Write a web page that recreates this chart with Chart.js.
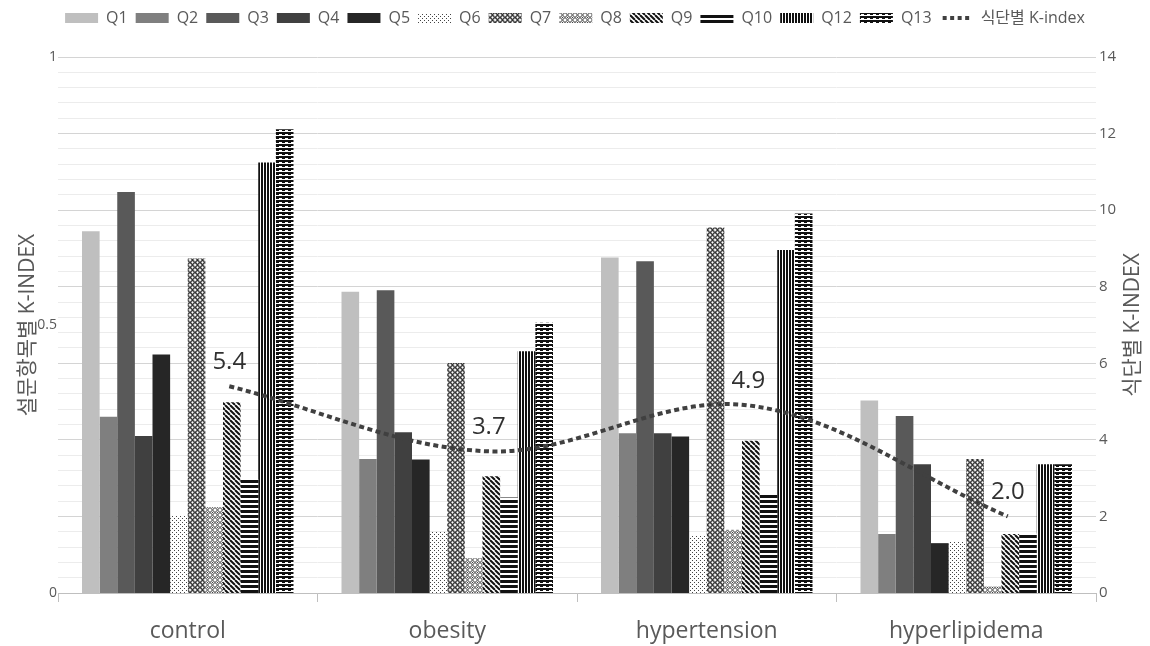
<!DOCTYPE html>
<html>
<head>
<meta charset="utf-8">
<script src="https://cdn.jsdelivr.net/npm/chart.js@4.4.0/dist/chart.umd.min.js"></script>
<style>
  html, body { margin: 0; padding: 0; background: #fff; }
  #wrap { width: 1150px; height: 646px; }
</style>
</head>
<body>
<div id="wrap"><canvas id="chart" width="1150" height="646"></canvas></div>
<script>
// data
const categories = ['control', 'obesity', 'hypertension', 'hyperlipidema'];
const seriesNames = ['Q1', 'Q2', 'Q3', 'Q4', 'Q5', 'Q6', 'Q7', 'Q8', 'Q9', 'Q10', 'Q12', 'Q13'];

const q1 = [0.675, 0.562, 0.626, 0.359];
const q2 = [0.329, 0.250, 0.298, 0.110];
const q3 = [0.748, 0.565, 0.619, 0.330];
const q4 = [0.293, 0.300, 0.298, 0.240];
const q5 = [0.445, 0.249, 0.292, 0.093];
const q6 = [0.144, 0.114, 0.108, 0.097];
const q7 = [0.624, 0.429, 0.682, 0.250];
const q8 = [0.160, 0.065, 0.118, 0.012];
const q9 = [0.356, 0.218, 0.284, 0.110];
const q10 = [0.212, 0.178, 0.183, 0.111];
const q12 = [0.803, 0.451, 0.640, 0.240];
const q13 = [0.865, 0.504, 0.708, 0.240];

const dietKIndex = [5.4, 3.7, 4.9, 2.0];

const leftTickValues = [0, 0.5, 1];
const rightTickValues = [0, 2, 4, 6, 8, 10, 12, 14];

const FONT = "'Open Sans', 'Noto Sans CJK KR', sans-serif";
const TEXT = '#595959';

// pattern tiles for the hatched series
function tile(w, h, draw) {
    const c = document.createElement('canvas');
    c.width = w; c.height = h;
    const g = c.getContext('2d');
    g.fillStyle = '#fff';
    g.fillRect(0, 0, w, h);
    draw(g);
    return g.createPattern(c, 'repeat');
}

const dots = tile(4, 4, g => {
    g.fillStyle = '#444';
    g.fillRect(0, 0, 1, 1);
    g.fillRect(2, 2, 1, 1);
});
const lattice = tile(5, 5, g => {
    g.strokeStyle = '#222'; g.lineWidth = 1.3;
    g.beginPath(); g.arc(2.5, 2.5, 1.8, 0, Math.PI * 2); g.stroke();
});
const latticeLight = tile(5, 5, g => {
    g.strokeStyle = '#444'; g.lineWidth = 1;
    g.beginPath(); g.arc(2.5, 2.5, 1.9, 0, Math.PI * 2); g.stroke();
    g.fillStyle = '#444'; g.fillRect(2, 2, 1, 1);
});
const diag = tile(5, 5, g => {
    g.strokeStyle = '#111'; g.lineWidth = 2;
    [-5, 0, 5].forEach(k => { g.beginPath(); g.moveTo(k, 0); g.lineTo(k + 5, 5); g.stroke(); });
});
const horiz = tile(1, 5, g => {
    g.fillStyle = '#111'; g.fillRect(0, 0, 1, 3);
});
const vert = tile(3, 1, g => {
    g.fillStyle = '#111'; g.fillRect(0, 0, 2, 1);
});
const horizDash = tile(6, 4, g => {
    g.fillStyle = '#111';
    g.fillRect(0, 0, 6, 2);
    g.fillRect(0, 2, 3, 1);
});

const fills = ['#bfbfbf', '#7f7f7f', '#595959', '#404040', '#262626',
    dots, lattice, latticeLight, diag, horiz, vert, horizDash];
const barValues = [q1, q2, q3, q4, q5, q6, q7, q8, q9, q10, q12, q13];

const datasets = seriesNames.map((name, i) => ({
    type: 'bar',
    label: name,
    data: barValues[i],
    backgroundColor: fills[i],
    borderWidth: 0,
    categoryPercentage: 0.815,
    barPercentage: 1,
    yAxisID: 'y',
    order: 2
}));

datasets.push({
    type: 'line',
    label: '식단별 K-index',
    data: dietKIndex,
    yAxisID: 'y2',
    borderColor: '#404040',
    borderWidth: 4,
    borderDash: [5, 3.5],
    borderCapStyle: 'butt',
    tension: 0.35,
    pointRadius: 0,
    fill: false,
    order: 0
});
const LINE_INDEX = datasets.length - 1;

// the line sits a bit right of the category centres in the picture
const lineShift = 0.16;
function lineDx(chart) {
    return lineShift * (chart.chartArea.right - chart.chartArea.left) / categories.length;
}

const legendHeight = {
    id: 'legendHeight',
    beforeInit(chart) {
        const fit = chart.legend.fit;
        chart.legend.fit = function () {
            fit.call(this);
            this.height = 55;
        };
    }
};

const extras = {
    id: 'extras',
    beforeDatasetDraw(chart, args) {
        if (args.index !== LINE_INDEX) return;
        chart.ctx.save();
        chart.ctx.translate(lineDx(chart), 0);
    },
    afterDatasetDraw(chart, args) {
        if (args.index !== LINE_INDEX) return;
        chart.ctx.restore();
    },
    afterDatasetsDraw(chart) {
        const ctx = chart.ctx;
        const meta = chart.getDatasetMeta(LINE_INDEX);
        const dx = lineDx(chart);
        ctx.save();
        ctx.font = '24px ' + FONT;
        ctx.fillStyle = '#303030';
        ctx.textAlign = 'center';
        ctx.textBaseline = 'middle';
        meta.data.forEach((pt, i) => ctx.fillText(dietKIndex[i].toFixed(1), pt.x + dx, pt.y - 24));
        ctx.restore();
    },
    afterDraw(chart) {
        const ctx = chart.ctx;
        const area = chart.chartArea;
        // right axis title reads bottom-to-top
        ctx.save();
        ctx.translate(1133, (area.top + area.bottom) / 2);
        ctx.rotate(-Math.PI / 2);
        ctx.font = '21px ' + FONT;
        ctx.fillStyle = TEXT;
        ctx.textAlign = 'center';
        ctx.textBaseline = 'middle';
        ctx.fillText('식단별 K-INDEX', 0, 0);
        ctx.restore();
        // dotted sample for the line in the legend
        const hb = chart.legend.legendHitBoxes[LINE_INDEX];
        if (hb) {
            ctx.save();
            ctx.fillStyle = '#404040';
            const cy = hb.top + 8;
            for (let k = 0; k < 4; k++) ctx.fillRect(hb.left + 3 + k * 7.5, cy - 2, 4, 4);
            ctx.restore();
        }
    }
};

new Chart(document.getElementById('chart'), {
    data: { labels: categories, datasets: datasets },
    options: {
        responsive: false,
        animation: false,
        layout: { padding: { top: 2, left: 0, right: 0, bottom: 0 } },
        plugins: {
            tooltip: { enabled: false },
            legend: {
                position: 'top',
                labels: {
                    font: { family: FONT, size: 16 },
                    color: TEXT,
                    boxWidth: 33,
                    boxHeight: 10,
                    padding: 8,
                    generateLabels(chart) {
                        return chart.data.datasets.map((ds, i) => ({
                            text: ds.label,
                            datasetIndex: i,
                            fillStyle: ds.type === 'line' ? 'rgba(0,0,0,0)' : ds.backgroundColor,
                            strokeStyle: 'rgba(0,0,0,0)',
                            lineWidth: 0,
                            hidden: false,
                            fontColor: TEXT
                        }));
                    }
                }
            }
        },
        scales: {
            x: {
                type: 'category',
                position: 'bottom',
                offset: true,
                grid: { drawOnChartArea: false, drawTicks: true, tickLength: 9, color: '#bfbfbf', offset: true },
                border: { color: '#bfbfbf' },
                ticks: { font: { family: FONT, size: 23 }, color: TEXT, padding: 16 },
                afterFit(s) { s.height = 53; }
            },
            y: {
                position: 'left',
                min: 0,
                max: 1,
                afterBuildTicks(s) { s.ticks = leftTickValues.map(v => ({ value: v })); },
                grid: { display: false, drawTicks: false },
                border: { display: false },
                ticks: {
                    font: { family: FONT, size: 14 },
                    color: TEXT,
                    padding: 1,
                    callback: v => String(v)
                },
                title: {
                    display: true,
                    text: '설문항목별 K-INDEX',
                    font: { family: FONT, size: 21 },
                    color: TEXT,
                    padding: { top: 15, bottom: 0 }
                },
                afterFit(s) { s.width = 58; }
            },
            y2: {
                position: 'right',
                min: 0,
                max: 14,
                ticks: {
                    stepSize: 0.4,
                    autoSkip: false,
                    font: { family: FONT, size: 15 },
                    color: TEXT,
                    padding: 3,
                    callback(v) {
                        const r = Math.round(v);
                        return (Math.abs(v - r) < 1e-6 && rightTickValues.includes(r)) ? String(r) : '';
                    }
                },
                grid: {
                    drawTicks: false,
                    color(c) {
                        const v = c.tick ? c.tick.value : 0;
                        const r = Math.round(v);
                        return (Math.abs(v - r) < 1e-6 && rightTickValues.includes(r)) ? '#d4d4d4' : '#ececec';
                    }
                },
                border: { display: false },
                afterFit(s) { s.width = 54; }
            }
        }
    },
    plugins: [legendHeight, extras]
});
</script>
</body>
</html>
